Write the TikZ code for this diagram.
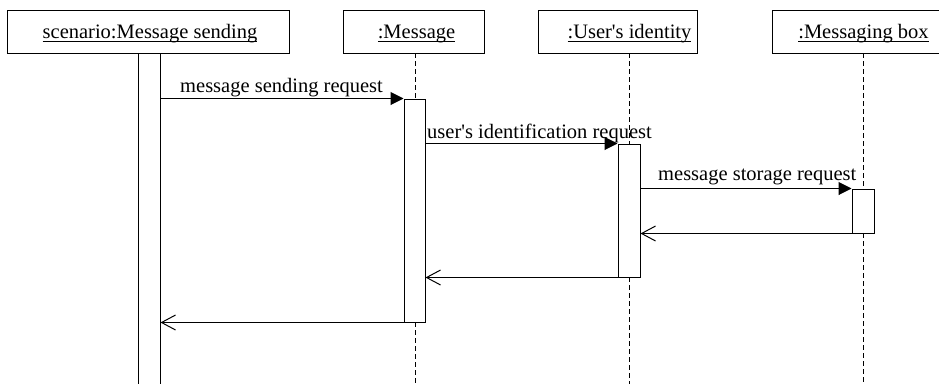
\documentclass[tikz,border=0pt]{standalone}
\usepackage{fontspec}
\setmainfont{Liberation Serif}
\usetikzlibrary{arrows.meta,calc}
\newcommand\ulx[1]{\setbox0\hbox{#1}\rlap{\rule[-3.6pt]{\wd0}{0.9pt}}\box0}
\begin{document}
\begin{tikzpicture}[x=1pt,y=-1pt,
  every node/.style={font=\fontsize{20.5}{24}\selectfont},
  headbox/.style={draw,line width=1pt,inner sep=0pt,minimum height=43pt},
  headtxt/.style={anchor=base,inner sep=0pt},
  actbar/.style={draw,fill=white,line width=1pt,inner sep=0pt,minimum width=22pt},
  lifeline/.style={line width=1pt,dash pattern=on 5pt off 3pt},
  callmsg/.style={line width=1pt,-{Triangle[length=13pt,width=13pt]}},
  retmsg/.style={line width=1pt,-{Straight Barb[length=14pt,width=15pt,line width=1pt]}},
  lbl/.style={anchor=base west,inner sep=0pt}]
\useasboundingbox (0,0) rectangle (939,383);
\coordinate (bot) at (0,395);
% header boxes
\node[headbox,minimum width=282pt] (h1) at (148,31.5) {};
\node[headbox,minimum width=141pt] (h2) at (413.5,31.5) {};
\node[headbox,minimum width=159pt] (h3) at (617.5,31.5) {};
\node[headbox,minimum width=169pt] (h4) at (856.5,31.5) {};
\node[headtxt] (t1) at (150,38.5) {\ulx{scenario:Message sending}};
\node[headtxt] (t2) at (416.5,38.5) {\ulx{:Message}};
\node[headtxt] (t3) at (629.5,38.5) {\ulx{:User\textquotesingle s identity}};
\node[headtxt] (t4) at (863.5,38.5) {\ulx{:Messaging box}};
% lifelines
\draw[lifeline] (415,53) -- (415,99);
\draw[lifeline] (415,322) -- (bot -| 415,0);
\draw[lifeline] (629,53) -- (629,144);
\draw[lifeline] (629,277) -- (bot -| 629,0);
\draw[lifeline] (863,53) -- (863,189);
\draw[lifeline] (863,233) -- (bot -| 863,0);
% activation bars
\node[actbar,minimum height=342pt] (b1) at (149,224) {};
\node[actbar,minimum width=21pt,minimum height=223pt] (b2) at (414.5,210.5) {};
\node[actbar,minimum height=133pt] (b3) at (629,210.5) {};
\node[actbar,minimum height=44pt] (b4) at (863,211) {};
% messages
\draw[callmsg] (b1.east |- b2.north west) -- (b2.north west);
\draw[callmsg] (b2.east |- b3.north west) -- (b3.north west);
\draw[callmsg] (b3.east |- b4.north west) -- (b4.north west);
\draw[retmsg] (b4.south west) -- (b3.east |- b4.south west);
\draw[retmsg] (b3.south west) -- (b2.east |- b3.south west);
\draw[retmsg] (b2.south west) -- (b1.east |- b2.south west);
% labels
\node[lbl] (l1) at (180,92) {message sending request};
\node[lbl] (l2) at (427,138) {user\textquotesingle s identification request};
\node[lbl] (l3) at (658,180.5) {message storage request};
\end{tikzpicture}
\end{document}
